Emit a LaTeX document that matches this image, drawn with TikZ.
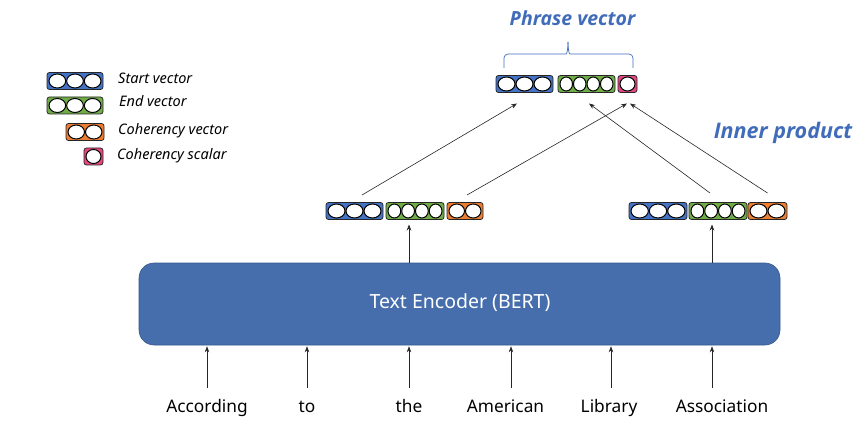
\documentclass[tikz,border=0pt]{standalone}
\usepackage{fontspec}
\setmainfont{Noto Sans}
\newfontfamily\ttlfont{Open Sans}
\usetikzlibrary{calc,arrows.meta}
\definecolor{vblue}{RGB}{68,114,196}
\definecolor{vgreen}{RGB}{112,173,71}
\definecolor{vorange}{RGB}{237,125,49}
\definecolor{vpink}{RGB}{228,70,128}
\definecolor{encblue}{RGB}{70,110,172}
\definecolor{encedge}{RGB}{55,90,145}
\definecolor{tblue}{RGB}{64,108,186}
\newcommand\vecbar[6]{%
  \node[vbar, fill=#6, minimum width=#4pt] (#1) at (#2,#3) {};
  \pgfmathsetmacro\cw{(#4-3)/#5}%
  \pgfmathsetmacro\rx{\cw/2-0.5}%
  \foreach \i in {1,...,#5}{%
    \draw[fill=white, line width=1pt] ($(#1.west)+({1.5+(\i-0.5)*\cw},0)$) ellipse [x radius=\rx pt, y radius=7pt];
  }%
}
\begin{document}
\begin{tikzpicture}[x=1pt,y=-1pt,
  vbar/.style={draw=black!85, line width=0.8pt, rounded corners=2.5pt, minimum height=17pt, inner sep=0pt, outer sep=0pt},
  arr/.style={-{Stealth[length=6pt,width=4.5pt]}, line width=0.6pt, draw=black!85},
  word/.style={font=\fontsize{17.3}{19}\selectfont, anchor=base, inner sep=0pt},
  leg/.style={font=\fontsize{14.5}{16}\selectfont\itshape, anchor=base west, inner sep=0pt},
  ttl/.style={text=tblue, anchor=base, inner sep=0pt}]
\useasboundingbox (0,0) rectangle (868,441);

% legend
\vecbar{g1}{75}{81}{56}{3}{vblue}
\vecbar{g2}{75}{105.5}{56}{3}{vgreen}
\vecbar{g3}{85}{132}{38}{2}{vorange}
\vecbar{g4}{93.5}{156.5}{19}{1}{vpink}
\node[leg] (lg1) at (118,84) {Start vector};
\node[leg] (lg2) at (119,107) {End vector};
\node[leg] (lg3) at (118,135) {Coherency vector};
\node[leg] (lg4) at (117,160) {Coherency scalar};

% titles
\node[ttl, font=\ttlfont\fontsize{19.5}{23}\selectfont\bfseries\itshape] (phr) at (572.5,26) {Phrase vector};
\node[ttl, font=\ttlfont\fontsize{21.5}{25}\selectfont\bfseries\itshape] (inn) at (783,139) {Inner product};
\draw[tblue, line width=0.7pt, rounded corners=4pt] (504,68) |- (562,54) to[out=0,in=-90] (568,42);
\draw[tblue, line width=0.7pt, rounded corners=4pt] (633,68) |- (574,54) to[out=180,in=-90] (568,42);

% top phrase vector
\vecbar{T1}{524.5}{84}{57}{3}{vblue}
\vecbar{T2}{586.5}{84}{57}{4}{vgreen}
\vecbar{T3}{627.5}{84}{19}{1}{vpink}

% middle vectors
\vecbar{L1}{354.5}{211}{57}{3}{vblue}
\vecbar{L2}{415}{211}{58}{4}{vgreen}
\vecbar{L3}{465}{211}{36}{2}{vorange}
\vecbar{R1}{658}{211}{58}{3}{vblue}
\vecbar{R2}{718}{211}{58}{4}{vgreen}
\vecbar{R3}{767.5}{211}{39}{2}{vorange}

% encoder
\node[draw=encedge, fill=encblue, line width=0.6pt, rounded corners=15pt, minimum width=641pt, minimum height=82pt, inner sep=0pt] (enc) at (459.5,304) {};
\node[text=white, font=\fontsize{19.5}{22}\selectfont] (enct) at (460,303) {Text Encoder (BERT)};

% words
\node[word] (w1) at (207,412) {According};
\node[word] (w2) at (307,412) {to};
\node[word] (w3) at (409,412) {the};
\node[word] (w4) at (505.5,412) {American};
\node[word] (w5) at (609,412) {Library};
\node[word] (w6) at (722,412) {Association};
\foreach \n/\x in {1/207,2/307,3/409,4/511,5/611,6/712}{
  \coordinate (a\n) at (\x,388);
  \draw[arr, shorten >=1pt] (a\n) -- (enc.south -| a\n);
}

% encoder to middle vectors
\draw[arr, shorten >=5pt] (enc.north -| a3) -- (L2.south -| a3);
\draw[arr, shorten >=5pt] (enc.north -| a6) -- (R2.south -| a6);

% inner product arrows
\draw[arr] ([xshift=7.5pt,yshift=7.5pt]L1.north) -- ([xshift=-7.5pt,yshift=-11pt]T1.south);
\draw[arr] ([xshift=2pt,yshift=7.5pt]L3.north) -- ([xshift=-0.5pt,yshift=-11pt]T3.south);
\draw[arr] ([xshift=-8pt,yshift=9.5pt]R2.north) -- ([xshift=2.5pt,yshift=-11pt]T2.south);
\draw[arr] ([yshift=9.5pt]R3.north) -- ([xshift=2.5pt,yshift=-11pt]T3.south);
\end{tikzpicture}
\end{document}
